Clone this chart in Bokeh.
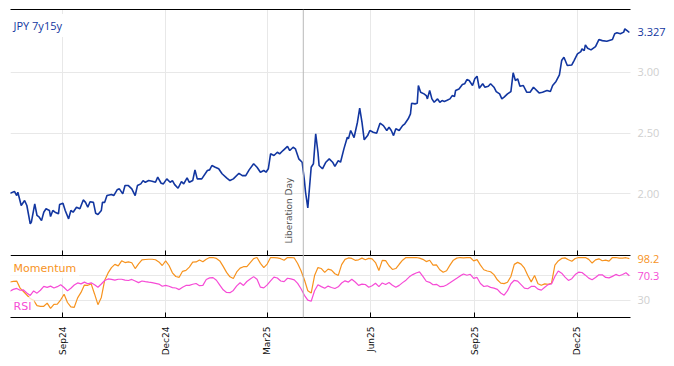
import numpy as np
import pandas as pd
from bokeh.plotting import figure
from bokeh.models import (Range1d, DatetimeAxis, FixedTicker, MonthsTicker,
                          DatetimeTickFormatter, CustomJSTickFormatter, Span, Label, Grid,
                          ColumnDataSource)
from bokeh.core.properties import value
from bokeh.embed import file_html
from bokeh.resources import INLINE

# ---------------- data ----------------
series_name = "JPY 7y15y"
event_date = "2025-04-02"
event_name = "Liberation Day"

main_dates = [
    "2024-07-16", "2024-07-17", "2024-07-20", "2024-07-22", "2024-07-23", "2024-07-26", "2024-07-29",
    "2024-07-31", "2024-08-03", "2024-08-04", "2024-08-07", "2024-08-09", "2024-08-11", "2024-08-13",
    "2024-08-15", "2024-08-17", "2024-08-20", "2024-08-21", "2024-08-23", "2024-08-25", "2024-08-28",
    "2024-08-29", "2024-09-01", "2024-09-03", "2024-09-06", "2024-09-08", "2024-09-10", "2024-09-13",
    "2024-09-16", "2024-09-19", "2024-09-21", "2024-09-23", "2024-09-25", "2024-09-28", "2024-09-30",
    "2024-10-02", "2024-10-05", "2024-10-06", "2024-10-08", "2024-10-10", "2024-10-14", "2024-10-16",
    "2024-10-19", "2024-10-21", "2024-10-24", "2024-10-26", "2024-10-29", "2024-11-01", "2024-11-04",
    "2024-11-06", "2024-11-09", "2024-11-11", "2024-11-13", "2024-11-16", "2024-11-19", "2024-11-22",
    "2024-11-24", "2024-11-27", "2024-11-29", "2024-12-02", "2024-12-05", "2024-12-07", "2024-12-09",
    "2024-12-12", "2024-12-15", "2024-12-17", "2024-12-20", "2024-12-22", "2024-12-25", "2024-12-27",
    "2024-12-29", "2025-01-02", "2025-01-07", "2025-01-09", "2025-01-11", "2025-01-14", "2025-01-17",
    "2025-01-20", "2025-01-24", "2025-01-27", "2025-01-30", "2025-02-04", "2025-02-07", "2025-02-10",
    "2025-02-13", "2025-02-17", "2025-02-20", "2025-02-23", "2025-02-26", "2025-02-28", "2025-03-02",
    "2025-03-04", "2025-03-07", "2025-03-10", "2025-03-12", "2025-03-15", "2025-03-19", "2025-03-21",
    "2025-03-24", "2025-03-26", "2025-03-29", "2025-04-01", "2025-04-03", "2025-04-04", "2025-04-06",
    "2025-04-09", "2025-04-11", "2025-04-13", "2025-04-15", "2025-04-16", "2025-04-19", "2025-04-22",
    "2025-04-25", "2025-04-28", "2025-04-30", "2025-05-03", "2025-05-05", "2025-05-08", "2025-05-11",
    "2025-05-12", "2025-05-14", "2025-05-17", "2025-05-20", "2025-05-22", "2025-05-24", "2025-05-26",
    "2025-05-29", "2025-05-31", "2025-06-03", "2025-06-06", "2025-06-09", "2025-06-12", "2025-06-15",
    "2025-06-17", "2025-06-19", "2025-06-21", "2025-06-23", "2025-06-26", "2025-06-29", "2025-07-01",
    "2025-07-04", "2025-07-06", "2025-07-07", "2025-07-10", "2025-07-12", "2025-07-13", "2025-07-15",
    "2025-07-18", "2025-07-20", "2025-07-21", "2025-07-23", "2025-07-25", "2025-07-27", "2025-07-30",
    "2025-08-01", "2025-08-03", "2025-08-05", "2025-08-07", "2025-08-10", "2025-08-12", "2025-08-14",
    "2025-08-15", "2025-08-18", "2025-08-21", "2025-08-23", "2025-08-25", "2025-08-27", "2025-08-30",
    "2025-09-01", "2025-09-03", "2025-09-05", "2025-09-08", "2025-09-10", "2025-09-13", "2025-09-15",
    "2025-09-18", "2025-09-20", "2025-09-23", "2025-09-25", "2025-09-27", "2025-09-30", "2025-10-03",
    "2025-10-05", "2025-10-07", "2025-10-09", "2025-10-11", "2025-10-14", "2025-10-17", "2025-10-20",
    "2025-10-23", "2025-10-28", "2025-10-31", "2025-11-04", "2025-11-07", "2025-11-09", "2025-11-12",
    "2025-11-15", "2025-11-17", "2025-11-19", "2025-11-22", "2025-11-26", "2025-11-28", "2025-12-01",
    "2025-12-04", "2025-12-05", "2025-12-07", "2025-12-08", "2025-12-10", "2025-12-13", "2025-12-17",
    "2025-12-20", "2025-12-23", "2025-12-27", "2026-01-01", "2026-01-03", "2026-01-05", "2026-01-08",
    "2026-01-11", "2026-01-12", "2026-01-14", "2026-01-16",
]
main_values = [
    2.005, 2.008, 2.020, 1.986, 2.013, 1.904, 1.945,
    1.904, 1.753, 1.767, 1.918, 1.822, 1.808, 1.780,
    1.849, 1.877, 1.863, 1.813, 1.863, 1.849, 1.836,
    1.912, 1.923, 1.863, 1.794, 1.863, 1.849, 1.890,
    1.877, 1.950, 1.930, 1.890, 1.935, 1.930, 1.840,
    1.830, 1.863, 1.930, 1.930, 1.986, 1.994, 1.986,
    2.033, 2.041, 2.000, 2.068, 2.068, 2.041, 1.986,
    2.068, 2.082, 2.109, 2.095, 2.109, 2.104, 2.095,
    2.137, 2.087, 2.082, 2.123, 2.095, 2.109, 2.076,
    2.046, 2.101, 2.082, 2.132, 2.095, 2.109, 2.197,
    2.123, 2.123, 2.192, 2.197, 2.233, 2.219, 2.206,
    2.165, 2.132, 2.109, 2.123, 2.169, 2.150, 2.150,
    2.197, 2.247, 2.219, 2.178, 2.192, 2.178, 2.206,
    2.329, 2.315, 2.342, 2.329, 2.356, 2.391, 2.356,
    2.383, 2.370, 2.288, 2.260, 2.109, 2.013, 1.885,
    2.219, 2.247, 2.493, 2.342, 2.233, 2.206, 2.260,
    2.288, 2.260, 2.225, 2.274, 2.260, 2.370, 2.466,
    2.452, 2.521, 2.463, 2.589, 2.705, 2.589, 2.444,
    2.479, 2.521, 2.507, 2.498, 2.581, 2.561, 2.521,
    2.548, 2.521, 2.479, 2.535, 2.521, 2.561, 2.576,
    2.617, 2.658, 2.745, 2.740, 2.745, 2.891, 2.836,
    2.822, 2.808, 2.781, 2.850, 2.781, 2.753, 2.781,
    2.753, 2.767, 2.760, 2.767, 2.781, 2.808, 2.800,
    2.850, 2.863, 2.899, 2.905, 2.940, 2.932, 2.891,
    2.946, 2.967, 2.868, 2.905, 2.877, 2.885, 2.905,
    2.877, 2.841, 2.822, 2.781, 2.795, 2.822, 2.841,
    2.995, 2.932, 2.946, 2.885, 2.891, 2.836, 2.836,
    2.877, 2.830, 2.836, 2.850, 2.841, 2.891, 2.924,
    2.979, 3.096, 3.123, 3.055, 3.060, 3.096, 3.151,
    3.170, 3.192, 3.178, 3.225, 3.197, 3.184, 3.211,
    3.269, 3.260, 3.255, 3.269, 3.316, 3.324, 3.316,
    3.330, 3.357, 3.343, 3.327,
]

# oscillators, sampled every 3 calendar days from osc_start
osc_start = "2024-07-16"
osc_step = "3D"
momentum = [
    60, 61, 61.5, 50, 44.5, 38.8, 33, 30, 21.3, 20.3,
    20.3, 25.4, 16.8, 23.4, 24, 31, 40, 26.5, 19.3, 18.7,
    34, 43, 55, 54.6, 57, 40.5, 23, 34.7, 63, 74.8,
    83.4, 88.8, 86.4, 94.6, 91.8, 93, 91.5, 82, 89.5, 96.2,
    96.8, 97.2, 97.2, 96.4, 92.8, 87, 94.6, 87, 75, 69,
    67.7, 77.5, 79, 84.4, 92.6, 92.8, 96, 93, 97.2, 100,
    100, 98.5, 94.5, 85.5, 75.7, 68.5, 65.6, 76.5, 82.7, 85,
    85.2, 91.7, 98.3, 100, 90.5, 83.6, 89.3, 100, 100, 99.5,
    98.1, 95.6, 100, 100, 99.3, 90.2, 78.3, 63.7, 45.7, 42,
    70.5, 83.6, 82, 75.8, 81, 79.5, 73.5, 70.9, 88.4, 97,
    99.3, 98.5, 95.5, 96.3, 99, 96.3, 98.6, 97.8, 91.7, 78.7,
    95.3, 94.8, 86.6, 80.5, 82, 89, 95.6, 100, 100, 100,
    100, 99, 97, 93.4, 95.5, 87.5, 88, 80, 75.9, 78.3,
    87.5, 95.7, 99, 100, 99.5, 100, 100, 94.5, 96.5, 87.5,
    80, 78, 76.8, 72, 63.6, 58.2, 57.3, 59.5, 69, 88.8,
    92.1, 89.2, 82.5, 70.6, 60.2, 70.5, 57.2, 54.8, 57, 56.3,
    58, 87.5, 94.5, 98.5, 99.4, 96.3, 94, 98.4, 100, 100,
    100, 97, 91, 96.2, 97.9, 94.7, 95.7, 94.1, 100, 100,
    99, 99, 99.7, 98.2,
]
rsi = [
    45, 48, 49.5, 46.5, 47, 42, 38, 45.4, 41.8, 46.5,
    52.8, 51.2, 53.3, 50.3, 52.4, 55.6, 51, 45.5, 49.9, 55,
    58.5, 57, 59.8, 57.2, 58.7, 55.6, 51.5, 56.8, 62.5, 65,
    64.4, 63, 64.5, 64.5, 63, 62.5, 64.2, 61.6, 59, 61.7,
    60.6, 59.7, 58.9, 57.8, 56.6, 53, 54.5, 53, 50.8, 50.2,
    47.6, 51.4, 54.4, 54.5, 56.3, 57.6, 54, 54.5, 64.2, 66.7,
    67.2, 62.9, 55, 47.2, 43, 42.6, 46.2, 53.7, 58.7, 54.4,
    60.8, 65, 68.8, 64.6, 51.6, 50.4, 55.3, 62, 68.1, 66.5,
    61.7, 60.7, 66.2, 65, 63.6, 57.7, 49, 38.3, 30.4, 28.6,
    45.8, 55.4, 52.5, 49.7, 53.3, 51.1, 49.3, 52.2, 58.4, 61.9,
    59.9, 64.4, 60, 54.4, 56.5, 55.9, 51.4, 54, 57.9, 52.5,
    58.5, 56, 59.3, 54.7, 51.3, 54.5, 59, 63, 68.5, 72.1,
    74.8, 76.5, 69.2, 61.2, 59.5, 55.5, 56.2, 52.6, 52.7, 55.2,
    58.8, 62.5, 66.2, 70, 73, 71, 72.6, 66, 67.5, 57.5,
    52.7, 53.8, 51.2, 50, 48, 42, 38.5, 45.9, 57.2, 62.8,
    61.5, 55.8, 50, 49, 52.7, 53, 48.3, 46.7, 51.3, 55.7,
    56.9, 69, 78, 74.5, 68, 62.6, 65.4, 72.1, 76, 75.5,
    71.2, 66.4, 63.7, 67.4, 71.8, 71.8, 67.5, 66.7, 69.2, 72.4,
    70.3, 72.2, 75.2, 70.3,
]

main_ticks = [2.0, 2.5, 3.0]
osc_ticks = [30]
osc_grid_levels = [30, 70]
tick_months = [2, 5, 8, 11]   # Mar, Jun, Sep, Dec (0-based)

# ---------------- style / geometry ----------------
MAIN_C = "#1236a0"
MOM_C = "#f7931e"
RSI_C = "#f64bd6"
GRID_C = "#e8e8e8"
TICK_C = "#cfcfcf"
FONT_NUM = "Open Sans"
FONT_TXT = "DejaVu Sans"


def ms(ts):
    return pd.Timestamp(ts).value / 1e6


x_start = ms("2024-07-16 12:00")
x_data_end = ms("2026-01-17 00:00")      # right edge of the plotted panels
x_frame_end = ms("2026-02-21 11:00")     # extra room on the right for value labels
main_range = Range1d(0.983, 3.516)       # main panel occupies the upper part
osc_range = Range1d(2, 505.3)            # oscillator panel occupies the lower strip
divider_level = 1.493                    # bottom of main panel (main y units)

main_src = ColumnDataSource(dict(x=pd.to_datetime(main_dates), y=main_values))
osc_dates = pd.date_range(osc_start, periods=len(momentum), freq=osc_step)
osc_src = ColumnDataSource(dict(x=osc_dates, mom=momentum, rsi=rsi))

p = figure(frame_width=660, frame_height=308, x_range=Range1d(x_start, x_frame_end),
           y_range=main_range, x_axis_type=None, y_axis_type=None,
           toolbar_location=None, output_backend="svg",
           min_border_left=10, min_border_right=2, min_border_top=9, min_border_bottom=4)
p.extra_y_ranges = {"osc": osc_range}
p.outline_line_color = None

# grids
p.add_layout(Grid(dimension=0, ticker=MonthsTicker(months=tick_months), grid_line_color=GRID_C))
p.add_layout(Grid(dimension=1, ticker=FixedTicker(ticks=main_ticks), grid_line_color=GRID_C,
                  cross_bounds=(x_start, x_data_end)))
p.add_layout(Grid(dimension=1, y_range_name="osc", ticker=FixedTicker(ticks=osc_grid_levels),
                  grid_line_color=GRID_C, cross_bounds=(x_start, x_data_end)))

# axes
blank = CustomJSTickFormatter(code="return ''")
top_ax = DatetimeAxis(ticker=FixedTicker(ticks=[]), axis_line_color="black",
                      major_tick_line_color=None, minor_tick_line_color=None,
                      major_label_standoff=0, bounds=(x_start, x_data_end))
p.add_layout(top_ax, "above")

bot_ax = DatetimeAxis(ticker=MonthsTicker(months=tick_months),
                      formatter=DatetimeTickFormatter(months="%b%y"),
                      major_label_orientation=np.pi / 2, axis_line_color="black",
                      major_tick_line_color="black", major_tick_in=5, major_tick_out=0,
                      minor_tick_line_color=None, major_label_standoff=9,
                      major_label_text_font=FONT_TXT, major_label_text_font_size="9px",
                      major_label_text_color="#111111", bounds=(x_start, x_data_end))
p.add_layout(bot_ax, "below")

div_ax = DatetimeAxis(ticker=MonthsTicker(months=tick_months), formatter=blank,
                      fixed_location=divider_level, axis_line_color="black",
                      major_tick_line_color="black", major_tick_in=5, major_tick_out=0,
                      minor_tick_line_color=None, major_label_standoff=0,
                      bounds=(x_start, x_data_end))
p.add_layout(div_ax, "below")

# right-side tick labels
p.text(x=[x_data_end] * len(main_ticks), y=main_ticks, text=[f"{t:.2f}" for t in main_ticks],
       x_offset=7, text_baseline="middle", text_align="left", text_color=TICK_C,
       text_font=value(FONT_NUM), text_font_size="11px")
p.text(x=[x_data_end] * len(osc_ticks), y=osc_ticks, text=[f"{t:g}" for t in osc_ticks],
       y_range_name="osc", x_offset=7, text_baseline="middle", text_align="left",
       text_color=TICK_C, text_font=value(FONT_NUM), text_font_size="11px")

# event marker
p.add_layout(Span(location=ms(event_date), dimension="height", line_color="#b8b8b8", line_width=1))
p.add_layout(Label(x=ms(event_date), y=1.591, text=event_name, angle=np.pi / 2,
                   text_align="left", text_baseline="bottom", x_offset=-9,
                   text_font=FONT_TXT, text_font_size="9px", text_color="#555555"))

# series
p.line("x", "y", source=main_src, line_color=MAIN_C, line_width=1.6)
p.line("x", "mom", source=osc_src, y_range_name="osc", line_color=MOM_C, line_width=1.2)
p.line("x", "rsi", source=osc_src, y_range_name="osc", line_color=RSI_C, line_width=1.2)

# labels
p.add_layout(Label(x=x_start, y=3.384, text=series_name, x_offset=-1, text_baseline="middle",
                   text_font=FONT_NUM, text_font_size="11px", text_color=MAIN_C,
                   background_fill_color="white", background_fill_alpha=1.0, padding=4))
p.add_layout(Label(x=x_data_end, y=main_values[-1], text=f"{main_values[-1]:.3f}", x_offset=7,
                   text_baseline="middle", text_font=FONT_NUM, text_font_size="11px",
                   text_color=MAIN_C))
p.add_layout(Label(x=x_start, y=82.1, y_range_name="osc", text="Momentum", x_offset=0,
                   text_baseline="middle", text_font=FONT_TXT, text_font_size="11px",
                   text_color=MOM_C, background_fill_color="white", background_fill_alpha=0.75,
                   padding=3))
p.add_layout(Label(x=x_start, y=20.0, y_range_name="osc", text="RSI", x_offset=0,
                   text_baseline="middle", text_font=FONT_TXT, text_font_size="11px",
                   text_color=RSI_C, background_fill_color="white", background_fill_alpha=0.75,
                   padding=3))
p.add_layout(Label(x=x_data_end, y=momentum[-1], y_range_name="osc", text=f"{momentum[-1]:.1f}",
                   x_offset=7, text_baseline="middle", text_font=FONT_NUM, text_font_size="11px",
                   text_color=MOM_C))
p.add_layout(Label(x=x_data_end, y=rsi[-1], y_range_name="osc", text=f"{rsi[-1]:.1f}",
                   x_offset=7, text_baseline="middle", text_font=FONT_NUM, text_font_size="11px",
                   text_color=RSI_C))

with open("out.html", "w") as f:
    f.write(file_html(p, INLINE))
